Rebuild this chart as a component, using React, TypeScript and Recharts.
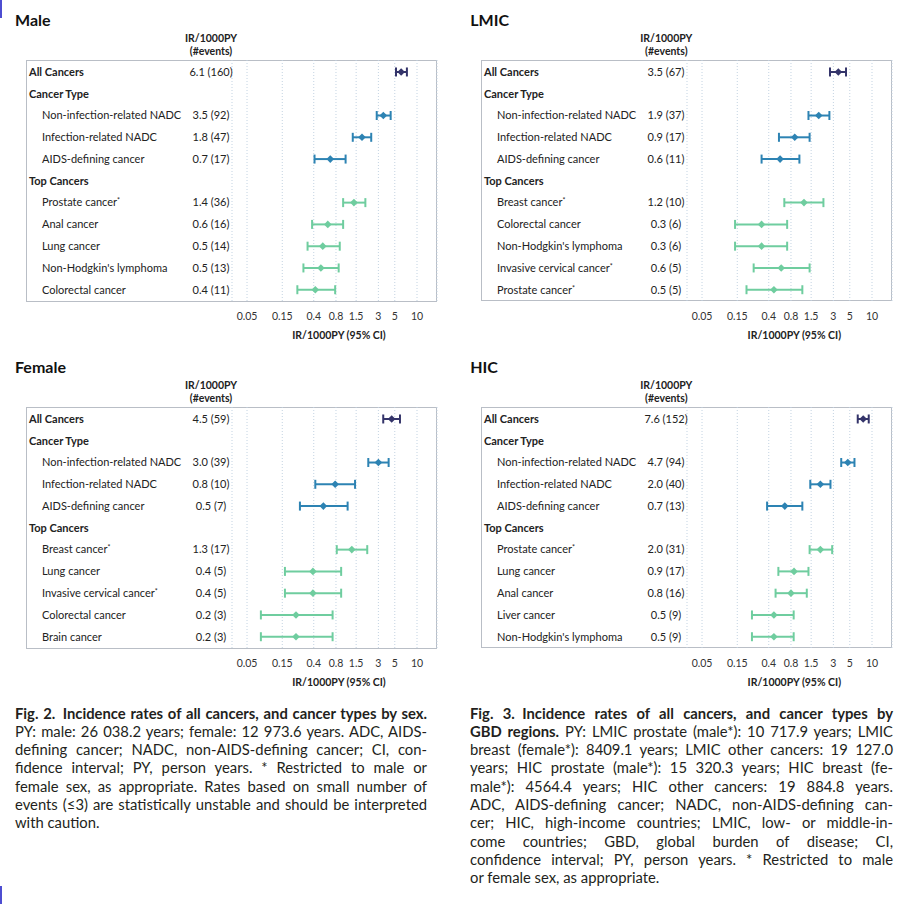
import React from "react";
import { ScatterChart, Scatter, XAxis, YAxis, CartesianGrid, ErrorBar } from "recharts";

// shared axis values
const xTicks = [0.05, 0.15, 0.4, 0.8, 1.5, 3, 5, 10];
const rowTicks = [0, 1, 2, 3, 4, 5, 6, 7, 8, 9, 10];
const typeLabels = ["Non-infection-related NADC", "Infection-related NADC", "AIDS-defining cancer"];

// Male
const maleTop = ["Prostate cancer*", "Anal cancer", "Lung cancer", "Non-Hodgkin's lymphoma", "Colorectal cancer"];
const maleIR = [6.1, 3.5, 1.8, 0.67, 1.4, 0.62, 0.53, 0.5, 0.42];
const maleEvents = [160, 92, 47, 17, 36, 16, 14, 13, 11];
const maleLow = [5.2, 2.85, 1.35, 0.41, 1.0, 0.38, 0.33, 0.29, 0.24];
const maleHigh = [7.3, 4.4, 2.4, 1.08, 2.0, 1.0, 0.9, 0.87, 0.78];

// LMIC
const lmicTop = ["Breast cancer*", "Colorectal cancer", "Non-Hodgkin's lymphoma", "Invasive cervical cancer*", "Prostate cancer*"];
const lmicIR = [3.5, 1.9, 0.9, 0.57, 1.2, 0.32, 0.32, 0.59, 0.47];
const lmicEvents = [67, 37, 17, 11, 10, 6, 6, 5, 5];
const lmicLow = [2.7, 1.38, 0.55, 0.32, 0.65, 0.14, 0.14, 0.25, 0.2];
const lmicHigh = [4.45, 2.65, 1.43, 1.04, 2.2, 0.71, 0.71, 1.43, 1.14];

// Female
const femaleTop = ["Breast cancer*", "Lung cancer", "Invasive cervical cancer*", "Colorectal cancer", "Brain cancer"];
const femaleIR = [4.54, 3.0, 0.78, 0.54, 1.31, 0.39, 0.39, 0.23, 0.23];
const femaleEvents = [59, 39, 10, 7, 17, 5, 5, 3, 3];
const femaleLow = [3.49, 2.19, 0.42, 0.26, 0.82, 0.163, 0.163, 0.077, 0.077];
const femaleHigh = [5.88, 4.13, 1.45, 1.15, 2.12, 0.94, 0.94, 0.72, 0.72];

// HIC
const hicTop = ["Prostate cancer*", "Lung cancer", "Anal cancer", "Liver cancer", "Non-Hodgkin's lymphoma"];
const hicIR = [7.6, 4.7, 2.0, 0.66, 2.0, 0.88, 0.8, 0.47, 0.47];
const hicEvents = [152, 94, 40, 13, 31, 17, 16, 9, 9];
const hicLow = [6.41, 3.83, 1.46, 0.38, 1.43, 0.54, 0.495, 0.237, 0.237];
const hicHigh = [9.03, 5.79, 2.74, 1.14, 2.89, 1.38, 1.31, 0.87, 0.87];

const FONT = "Lato, 'Open Sans', sans-serif";
const TEXT = "#222";
const COLORS = { all: "#34346a", type: "#2d83b3", top: "#6fcd9f" };
const GROUPS: ("all" | "type" | "top")[] = ["all", "type", "type", "type", "top", "top", "top", "top", "top"];
const ROW_OF = [0, 2, 3, 4, 6, 7, 8, 9, 10];

type Row = { label: string; value?: string; bold: boolean; indent: boolean };

function buildPanel(top: string[], ir: number[], events: number[], low: number[], high: number[]) {
  const names = ["All Cancers", ...typeLabels, ...top];
  const rows: Row[] = [];
  rows[1] = { label: "Cancer Type", bold: true, indent: false };
  rows[5] = { label: "Top Cancers", bold: true, indent: false };
  const points: Record<string, any[]> = { all: [], type: [], top: [] };
  names.forEach((name, i) => {
    const r = ROW_OF[i];
    rows[r] = { label: name, value: `${ir[i].toFixed(1)} (${events[i]})`, bold: i === 0, indent: i > 0 };
    points[GROUPS[i]].push({ row: r, ir: ir[i], err: [ir[i] - low[i], high[i] - ir[i]] });
  });
  return { rows, points };
}

const renderLabel = (label: string) => {
  if (label.endsWith("*")) {
    return (
      <>
        {label.slice(0, -1)}
        <tspan fontSize={7} dy={-3}>*</tspan>
      </>
    );
  }
  return label;
};

const diamond = (color: string) => (props: any) => {
  const { cx, cy } = props;
  const s = 3.8;
  return <path d={`M${cx},${cy - s}L${cx + s},${cy}L${cx},${cy + s}L${cx - s},${cy}Z`} fill={color} />;
};

function Panel({ x, y, title, data }: { x: number; y: number; title: string; data: ReturnType<typeof buildPanel> }) {
  const rowTick = (p: any) => {
    const r = data.rows[p.payload.value];
    if (!r) return <g />;
    return (
      <g>
        <text x={r.indent ? 42 : 29} y={p.y} dy="0.35em" fontSize={11} fontFamily={FONT} fontWeight={r.bold ? 700 : 400} fill={TEXT}>
          {renderLabel(r.label)}
        </text>
        {r.value && (
          <text x={211} y={p.y} dy="0.35em" fontSize={11} fontFamily={FONT} fill={TEXT} textAnchor="middle">
            {r.value}
          </text>
        )}
      </g>
    );
  };
  return (
    <div style={{ position: "absolute", left: x, top: y, width: 445, height: 345 }}>
      <div style={{ position: "absolute", left: 15, top: 10, fontFamily: FONT, fontWeight: 700, fontSize: 16, lineHeight: "20px", color: "#111" }}>
        {title}
      </div>
      <div style={{ position: "absolute", left: 161, top: 32, width: 100, textAlign: "center", fontFamily: FONT, fontWeight: 700, fontSize: 10.5, lineHeight: "13px", color: TEXT }}>
        IR/1000PY
        <br />
        (#events)
      </div>
      <div style={{ position: "absolute", left: 26, top: 60, width: 411, height: 241.7, border: "1.5px solid #b9bec6", boxSizing: "border-box" }} />
      <div style={{ position: "absolute", left: 0, top: 0 }}>
        <ScatterChart width={445} height={345} margin={{ top: 60, right: 8, bottom: 0, left: 0 }}>
          <CartesianGrid horizontal={false} stroke="#c3d3e2" strokeDasharray="1 2" />
          <XAxis
            type="number"
            dataKey="ir"
            scale="log"
            domain={[0.0313, 18.65]}
            allowDataOverflow
            ticks={xTicks}
            interval={0}
            tickFormatter={(v) => String(v)}
            tickLine={false}
            axisLine={false}
            tickSize={9}
            tickMargin={2}
            height={43.3}
            tick={{ fontSize: 10.5, fill: "#333", fontFamily: FONT }}
          />
          <YAxis
            type="number"
            dataKey="row"
            domain={[-0.55, 10.55]}
            reversed
            allowDataOverflow
            ticks={rowTicks}
            interval={0}
            width={232}
            axisLine={false}
            tickLine={false}
            tick={rowTick}
          />
          {(["all", "type", "top"] as const).map((g) => (
            <Scatter key={g} data={data.points[g]} fill={COLORS[g]} shape={diamond(COLORS[g])} isAnimationActive={false}>
              <ErrorBar dataKey="err" direction="x" width={4.5} strokeWidth={2} stroke={COLORS[g]} isAnimationActive={false} />
            </Scatter>
          ))}
        </ScatterChart>
      </div>
      <div style={{ position: "absolute", left: 289, top: 328, width: 100, textAlign: "center", whiteSpace: "nowrap", fontFamily: FONT, fontWeight: 700, fontSize: 10.5, lineHeight: "15px", color: TEXT }}>
        IR/1000PY (95% CI)
      </div>
    </div>
  );
}

const fig2Lines = [
  "PY: male: 26 038.2 years; female: 12 973.6 years. ADC, AIDS-",
  "defining cancer; NADC, non-AIDS-defining cancer; CI, con-",
  "fidence interval; PY, person years. * Restricted to male or",
  "female sex, as appropriate. Rates based on small number of",
  "events (≤3) are statistically unstable and should be interpreted",
  "with caution.",
];

const fig3Lines = [
  "breast (female*): 8409.1 years; LMIC other cancers: 19 127.0",
  "years; HIC prostate (male*): 15 320.3 years; HIC breast (fe-",
  "male*): 4564.4 years; HIC other cancers: 19 884.8 years.",
  "ADC, AIDS-defining cancer; NADC, non-AIDS-defining can-",
  "cer; HIC, high-income countries; LMIC, low- or middle-in-",
  "come countries; GBD, global burden of disease; CI,",
  "confidence interval; PY, person years. * Restricted to male",
  "or female sex, as appropriate.",
];

const lineStyle = (last: boolean): React.CSSProperties => ({
  whiteSpace: "nowrap",
  textAlign: last ? "left" : "justify",
  textAlignLast: last ? "left" : "justify",
  height: 18.3,
  lineHeight: "18.3px",
});

function Caption({ x, width, head, lines }: { x: number; width: number; head: React.ReactNode[]; lines: string[] }) {
  return (
    <div style={{ position: "absolute", left: x, top: 703.5, width, fontFamily: FONT, fontSize: 14.8, color: "#231f20" }}>
      {head.map((h, i) => (
        <div key={"h" + i} style={lineStyle(false)}>{h}</div>
      ))}
      {lines.map((l, i) => (
        <div key={i} style={lineStyle(i === lines.length - 1 && l.length < 40)}>{l}</div>
      ))}
    </div>
  );
}

export default function App() {
  const male = buildPanel(maleTop, maleIR, maleEvents, maleLow, maleHigh);
  const lmic = buildPanel(lmicTop, lmicIR, lmicEvents, lmicLow, lmicHigh);
  const female = buildPanel(femaleTop, femaleIR, femaleEvents, femaleLow, femaleHigh);
  const hic = buildPanel(hicTop, hicIR, hicEvents, hicLow, hicHigh);
  return (
    <div style={{ position: "absolute", left: 0, top: 0, width: 908, height: 904, background: "#fff", overflow: "hidden" }}>
      <div style={{ position: "absolute", left: 0, top: 0, width: 2, height: 18, background: "#4d4dd1" }} />
      <div style={{ position: "absolute", left: 0, top: 886, width: 2, height: 18, background: "#4d4dd1" }} />
      <Panel x={0} y={0} title="Male" data={male} />
      <Panel x={455.3} y={-0.5} title="LMIC" data={lmic} />
      <Panel x={0} y={347.3} title="Female" data={female} />
      <Panel x={455.3} y={346.7} title="HIC" data={hic} />
      <Caption
        x={15}
        width={412}
        head={[<b>Fig. 2.{"\u2002"}Incidence rates of all cancers, and cancer types by sex.</b>]}
        lines={fig2Lines}
      />
      <Caption
        x={470}
        width={423}
        head={[
          <b>Fig. 3.{"\u2002"}Incidence rates of all cancers, and cancer types by</b>,
          <span><b>GBD regions.</b> PY: LMIC prostate (male*): 10 717.9 years; LMIC</span>,
        ]}
        lines={fig3Lines}
      />
    </div>
  );
}
